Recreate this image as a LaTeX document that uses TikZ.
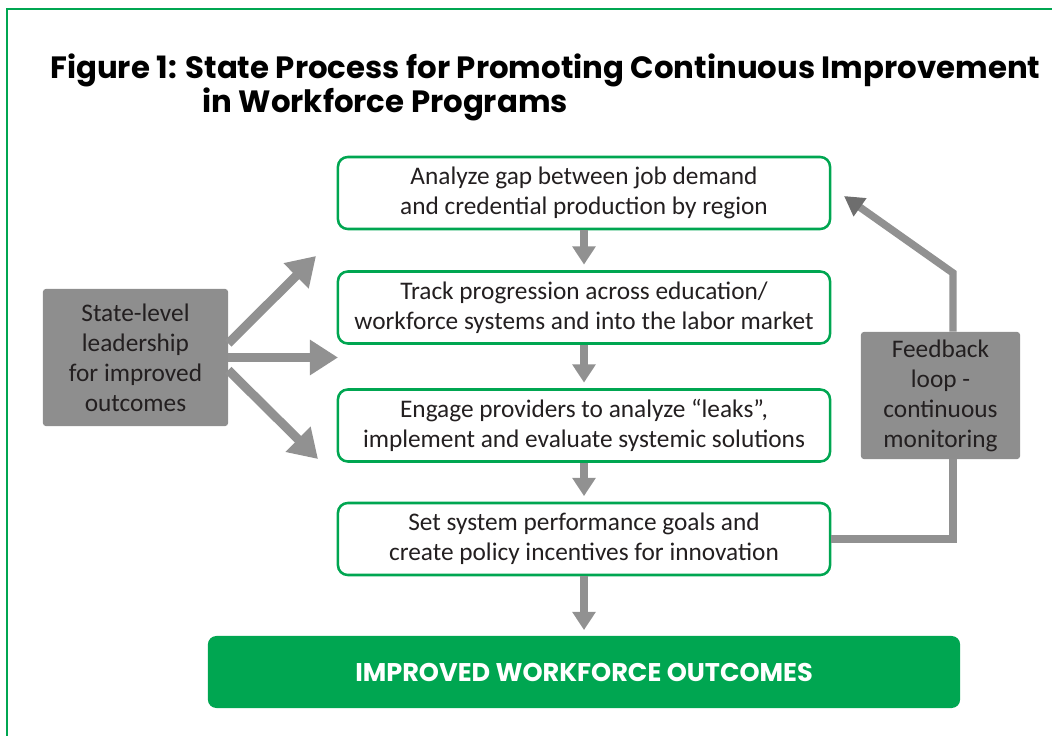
\documentclass[tikz,border=0pt]{standalone}
\usepackage{fontspec}
\setmainfont{Carlito}
\newfontfamily\headfont{Poppins}
\usetikzlibrary{arrows.meta}

\definecolor{boxgreen}{RGB}{0,166,81}
\definecolor{boxgray}{RGB}{142,142,142}
\definecolor{arrowgray}{RGB}{145,145,145}
\definecolor{tipgray}{RGB}{110,110,110}
\definecolor{textdark}{RGB}{35,31,32}

\begin{document}
\begin{tikzpicture}[x=0.025cm, y=-0.025cm,
    stepbox/.style={draw=boxgreen, line width=1.8pt, rounded corners=7pt, fill=white,
        minimum width=12.3cm, minimum height=1.8cm, inner sep=0pt, align=center,
        text=textdark, font=\fontsize{18}{21.3}\selectfont},
    sidebox/.style={fill=boxgray, rounded corners=2pt, inner sep=0pt, align=center,
        text=textdark, font=\fontsize{18}{21.3}\selectfont},
    downarrow/.style={draw=arrowgray, line width=5.5pt, shorten >=4pt,
        -{Triangle[width=16pt,length=13pt]}},
    leadarrow/.style={draw=arrowgray, line width=6.4pt,
        -{Triangle[width=24pt,length=20pt]}}]
    \useasboundingbox (0,0) rectangle (1052,736);
    % Frame
    \draw[boxgreen, line width=1.6pt] (1052,9) -- (7,9) -- (7,736);
    % Title
    \node[anchor=base west, inner sep=0pt, align=left, font=\headfont\bfseries\fontsize{21.9}{23.5}\selectfont]
        (title) at (50,113) {Figure 1: State Process for Promoting Continuous Improvement\\
        \phantom{Figure 1: }\hspace*{12pt}in Workforce Programs};
    % Process steps
    \node[stepbox] (gap) at (584,193) {Analyze gap between job demand\\and credential production by region};
    \node[stepbox] (track) at (584,307.5) {Track progression across education/\\workforce systems and into the labor market};
    \node[stepbox] (engage) at (584,425.5) {Engage providers to analyze ``leaks'',\\implement and evaluate systemic solutions};
    \node[stepbox] (goals) at (584,539) {Set system performance goals and\\create policy incentives for innovation};
    \node[fill=boxgreen, rounded corners=6pt, minimum width=18.8cm, minimum height=1.8cm,
        text=white, font=\headfont\bfseries\fontsize{18.2}{20}\selectfont] (outcomes) at (584,672)
        {IMPROVED WORKFORCE OUTCOMES};
    % Side boxes
    \node[sidebox, minimum width=4.625cm, minimum height=3.425cm] (lead) at (135.5,357.5)
        {State-level\\leadership\\for improved\\outcomes};
    \node[sidebox, minimum width=3.975cm, minimum height=3.175cm] (feedback) at (940.5,395.5)
        {Feedback\\loop -\\continuous\\monitoring};
    % Arrows down the process
    \draw[downarrow] (gap) -- (track);
    \draw[downarrow] (track) -- (engage);
    \draw[downarrow] (engage) -- (goals);
    \draw[downarrow] (goals) -- (outcomes);
    % Leadership arrows
    \coordinate (upTip) at (316,256);
    \coordinate (midTip) at (338,357.5);
    \coordinate (lowTip) at (318,459);
    \draw[leadarrow] ([yshift=10pt]lead.east) -- (upTip);
    \draw[leadarrow] (lead.east) -- (midTip);
    \draw[leadarrow] ([yshift=-9pt]lead.east) -- (lowTip);
    % Feedback loop
    \coordinate (loopLow) at (953,539);
    \coordinate (loopHigh) at (953,273);
    \coordinate (loopTip) at (844,196);
    \draw[arrowgray, line width=5.3pt] (goals.east) -- (loopLow) -- (loopLow |- feedback.south);
    \draw[arrowgray, line width=5.3pt, line join=miter, -{Triangle[width=15pt,length=14pt,color=tipgray]}]
        (loopLow |- feedback.north) -- (loopHigh) -- (loopTip);
\end{tikzpicture}
\end{document}
